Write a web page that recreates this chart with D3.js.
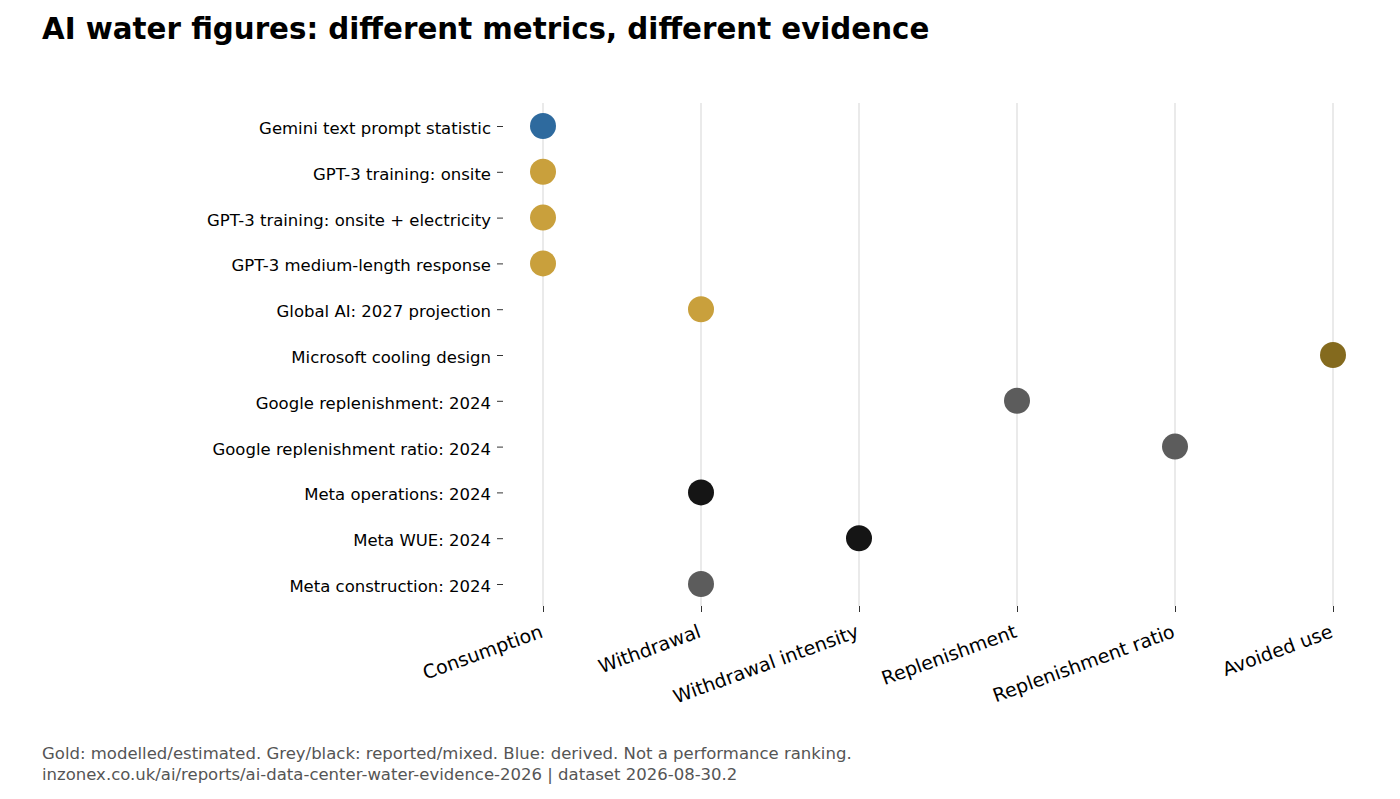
<!DOCTYPE html>
<html><head><meta charset="utf-8">
<script src="https://cdn.jsdelivr.net/npm/d3@7"></script>
<style>body{margin:0;background:#fff;font-family:"DejaVu Sans",sans-serif}</style>
</head><body><svg id="c" width="1400" height="799"></svg>
<script>
// categories / metrics / points
var labels = ["Gemini text prompt statistic","GPT-3 training: onsite","GPT-3 training: onsite + electricity",
  "GPT-3 medium-length response","Global AI: 2027 projection","Microsoft cooling design",
  "Google replenishment: 2024","Google replenishment ratio: 2024","Meta operations: 2024",
  "Meta WUE: 2024","Meta construction: 2024"];
var metrics = ["Consumption","Withdrawal","Withdrawal intensity","Replenishment","Replenishment ratio","Avoided use"];
var pointMetric = ["Consumption","Consumption","Consumption","Consumption","Withdrawal","Avoided use",
  "Replenishment","Replenishment ratio","Withdrawal","Withdrawal intensity","Withdrawal"];
var evidence = ["derived","modelled","modelled","modelled","modelled","design","reported","reported","black","black","reported"];
var colors = {derived:"#2e6a9e",modelled:"#c9a03c",design:"#846a1e",reported:"#5c5c5c",black:"#151515"};

var svg = d3.select("#c");
var x = d3.scalePoint().domain(metrics).range([543,1333]);
var y = d3.scalePoint().domain(labels).range([126,584]);

svg.append("g").selectAll("line").data(metrics).enter().append("line")
  .attr("x1",d=>x(d)).attr("x2",d=>x(d)).attr("y1",103).attr("y2",606)
  .attr("stroke","#dcdcdc").attr("stroke-width",1.2);

var ya = svg.append("g").attr("transform","translate(503,0)")
  .call(d3.axisLeft(y).tickSize(6).tickPadding(6));
ya.select(".domain").remove();
ya.selectAll("text").attr("font-size",16.5).attr("font-family","DejaVu Sans").attr("fill","#000").attr("dy","0.45em");
ya.selectAll("line").attr("stroke","#333");

var xa = svg.append("g").attr("transform","translate(0,606)")
  .call(d3.axisBottom(x).tickSize(6).tickPadding(8));
xa.select(".domain").remove();
xa.selectAll("line").attr("stroke","#333");
xa.selectAll("text").attr("font-size",19).attr("font-family","DejaVu Sans").attr("fill","#000")
  .attr("text-anchor","end").attr("dy","0.9em").attr("transform","rotate(-20) translate(-10,-2)");

svg.append("g").selectAll("circle").data(labels).enter().append("circle")
  .attr("cx",(d,i)=>x(pointMetric[i])).attr("cy",d=>y(d)).attr("r",13)
  .attr("fill",(d,i)=>colors[evidence[i]]);

svg.append("text").attr("x",42).attr("y",39).attr("font-size",29.3).attr("font-weight","bold")
  .text("AI water figures: different metrics, different evidence");
svg.append("text").attr("x",42).attr("y",759).attr("font-size",16.5).attr("fill","#555")
  .text("Gold: modelled/estimated. Grey/black: reported/mixed. Blue: derived. Not a performance ranking.");
svg.append("text").attr("x",42).attr("y",780).attr("font-size",16.5).attr("fill","#555")
  .text("inzonex.co.uk/ai/reports/ai-data-center-water-evidence-2026 | dataset 2026-08-30.2");
</script></body></html>
